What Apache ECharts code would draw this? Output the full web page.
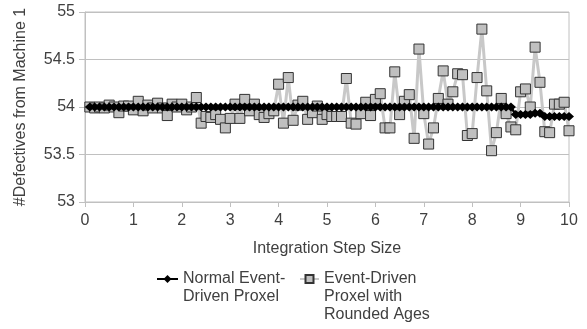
<!DOCTYPE html>
<html>
<head>
<meta charset="utf-8">
<script src="https://cdn.jsdelivr.net/npm/echarts@6/dist/echarts.min.js"></script>
<style>
  html, body { margin: 0; padding: 0; background: #fff; }
  #chart { width: 587px; height: 329px; }
</style>
</head>
<body>
<div id="chart"></div>
<script>
// integration step sizes (x)
var steps = [
  0.1, 0.2, 0.3, 0.4, 0.5, 0.6, 0.7, 0.8, 0.9, 1.0,
  1.1, 1.2, 1.3, 1.4, 1.5, 1.6, 1.7, 1.8, 1.9, 2.0,
  2.1, 2.2, 2.3, 2.4, 2.5, 2.6, 2.7, 2.8, 2.9, 3.0,
  3.1, 3.2, 3.3, 3.4, 3.5, 3.6, 3.7, 3.8, 3.9, 4.0,
  4.1, 4.2, 4.3, 4.4, 4.5, 4.6, 4.7, 4.8, 4.9, 5.0,
  5.1, 5.2, 5.3, 5.4, 5.5, 5.6, 5.7, 5.8, 5.9, 6.0,
  6.1, 6.2, 6.3, 6.4, 6.5, 6.6, 6.7, 6.8, 6.9, 7.0,
  7.1, 7.2, 7.3, 7.4, 7.5, 7.6, 7.7, 7.8, 7.9, 8.0,
  8.1, 8.2, 8.3, 8.4, 8.5, 8.6, 8.7, 8.8, 8.9, 9.0,
  9.1, 9.2, 9.3, 9.4, 9.5, 9.6, 9.7, 9.8, 9.9, 10.0
];

// Normal Event-Driven Proxel
var normalValues = [
  54, 54, 54, 54, 54, 54, 54, 54, 54, 54,
  54, 54, 54, 54, 54, 54, 54, 54, 54, 54,
  54, 54, 54, 54, 54, 54, 54, 54, 54, 54,
  54, 54, 54, 54, 54, 54, 54, 54, 54, 54,
  54, 54, 54, 54, 54, 54, 54, 54, 54, 54,
  54, 54, 54, 54, 54, 54, 54, 54, 54, 54,
  54, 54, 54, 54, 54, 54, 54, 54, 54, 54,
  54, 54, 54, 54, 54, 54, 54, 54, 54, 54,
  54, 54, 54, 54, 54, 54, 54, 54, 53.92, 53.92,
  53.92, 53.92, 53.935, 53.935, 53.9, 53.9, 53.9, 53.9, 53.9, 53.9
];

// Event-Driven Proxel with Rounded Ages
var roundedValues = [
  54.0, 53.99, 54.0, 53.99, 54.02, 54.0, 53.94, 54.01, 54.01, 53.97,
  54.06, 53.96, 54.02, 53.99, 54.04, 53.99, 53.91, 54.03, 54.0, 54.03,
  53.97, 54.0, 54.1, 53.83, 53.9, 53.89, 53.92, 53.87, 53.78, 53.88,
  54.03, 53.88, 54.08, 53.96, 54.03, 53.92, 53.89, 53.93, 53.96, 54.24,
  53.83, 54.31, 53.86, 54.02, 54.06, 53.87, 53.94, 54.01, 53.87, 53.92,
  53.9, 53.9, 53.9, 54.3, 53.83, 53.82, 53.93, 54.05, 53.91, 54.08,
  54.14, 53.78, 53.78, 54.37, 53.92, 54.06, 54.13, 53.67, 54.61, 53.93,
  53.61, 53.78, 54.09, 54.38, 54.03, 54.16, 54.35, 54.34, 53.7, 53.72,
  54.31, 54.82, 54.17, 53.54, 53.73, 54.09, 53.93, 53.79, 53.76, 54.16,
  54.19, 54.0, 54.63, 54.26, 53.74, 53.73, 54.03, 54.03, 54.05, 53.75
];

var normalName = 'Normal Event-\nDriven Proxel';
var roundedName = 'Event-Driven\nProxel with\nRounded Ages';

function pairs(xs, ys) {
  var out = [];
  for (var i = 0; i < xs.length; i++) {
    out.push([xs[i], ys[i]]);
  }
  return out;
}

// legend icon sits on the first text line: pad the block with blank lines above
function firstLineOnIcon(name) {
  var lines = name.split('\n').length;
  var pad = '';
  for (var i = 1; i < lines; i++) pad += '\n';
  return pad + name;
}

var fontFamily = 'Liberation Sans, Arial, sans-serif';
var textColor = '#404040';
var gridColor = '#c0c0c0';

var chart = echarts.init(document.getElementById('chart'));
var option = {
  animation: false,
  textStyle: { fontFamily: fontFamily },
  grid: {
    left: 85, right: 18, top: 12, bottom: 127,
    show: true, borderColor: gridColor, borderWidth: 1
  },
  legend: [
    {
      data: [normalName],
      left: 156, top: 252,
      itemWidth: 21, itemHeight: 10,
      padding: 0,
      formatter: firstLineOnIcon,
      textStyle: { fontSize: 16, color: textColor, lineHeight: 18 }
    },
    {
      data: [roundedName],
      left: 299, top: 234,
      itemWidth: 19, itemHeight: 10,
      padding: 0,
      formatter: firstLineOnIcon,
      textStyle: { fontSize: 16, color: textColor, lineHeight: 18 }
    }
  ],
  xAxis: {
    type: 'value',
    min: 0, max: 10, interval: 1,
    name: 'Integration Step Size',
    nameLocation: 'middle',
    nameGap: 39,
    nameTextStyle: { fontSize: 16, color: textColor },
    axisLine: { lineStyle: { color: gridColor } },
    axisTick: { show: true, length: 5, lineStyle: { color: gridColor } },
    axisLabel: { fontSize: 16, color: textColor, margin: 11 },
    splitLine: { show: false }
  },
  yAxis: {
    type: 'value',
    min: 53, max: 55, interval: 0.5,
    name: '#Defectives from Machine 1',
    nameLocation: 'middle',
    nameRotate: 90,
    nameGap: 56,
    nameTextStyle: { fontSize: 16, color: textColor },
    axisLine: { show: true, lineStyle: { color: gridColor } },
    axisTick: { show: true, length: 6, lineStyle: { color: gridColor } },
    axisLabel: { fontSize: 16, color: textColor, margin: 10 },
    splitLine: { show: true, lineStyle: { color: gridColor } }
  },
  series: [
    {
      name: normalName,
      type: 'line',
      z: 3,
      data: pairs(steps, normalValues),
      symbol: 'diamond',
      symbolSize: [10, 9],
      lineStyle: { color: '#000', width: 2.5 },
      itemStyle: { color: '#000' }
    },
    {
      name: roundedName,
      type: 'line',
      z: 2,
      data: pairs(steps, roundedValues),
      symbol: 'rect',
      symbolSize: 10,
      lineStyle: { color: '#c8c8c8', width: 3 },
      itemStyle: { color: '#c0c0c0', borderColor: '#333', borderWidth: 1 }
    }
  ]
};
chart.setOption(option);
window.addEventListener('resize', function () {
  chart.resize();
});
</script>
</body>
</html>
